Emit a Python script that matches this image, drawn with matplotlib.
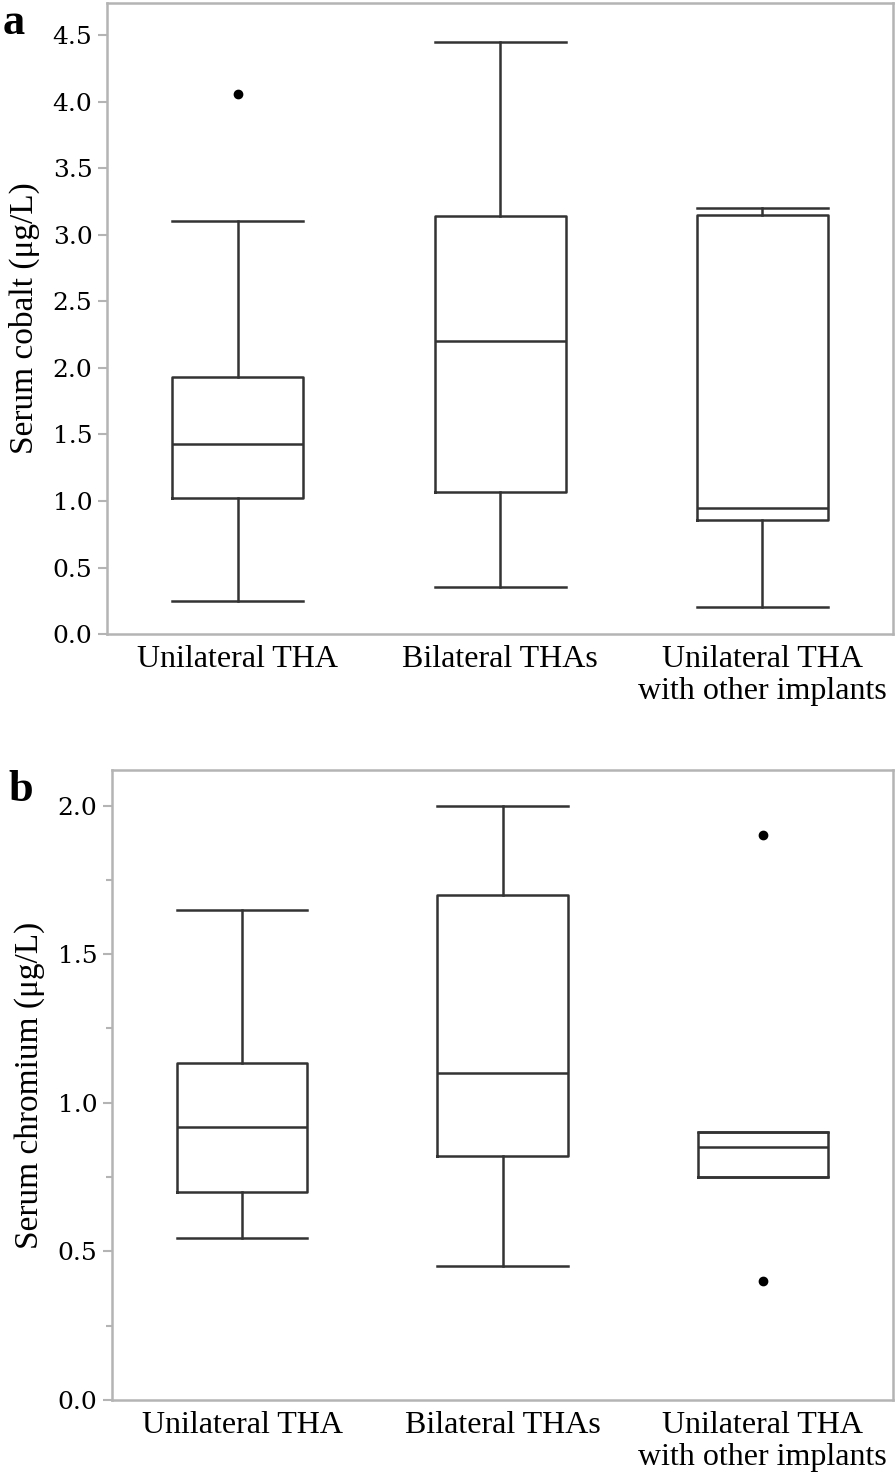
import matplotlib

matplotlib.use("Agg")
import matplotlib.pyplot as plt  # noqa: E402
from matplotlib.ticker import FormatStrFormatter, MultipleLocator  # noqa: E402

groups = ["Unilateral THA", "Bilateral THAs", "Unilateral THA\nwith other implants"]

# serum cobalt (ug/L): whisker low, Q1, median, Q3, whisker high, outliers
co_whislo = [0.25, 0.35, 0.20]
co_q1 = [1.02, 1.07, 0.86]
co_med = [1.43, 2.20, 0.95]
co_q3 = [1.93, 3.14, 3.15]
co_whishi = [3.10, 4.45, 3.20]
co_fliers = [[4.06], [], []]

# serum chromium (ug/L)
cr_whislo = [0.545, 0.45, 0.75]
cr_q1 = [0.70, 0.82, 0.75]
cr_med = [0.92, 1.10, 0.85]
cr_q3 = [1.135, 1.70, 0.90]
cr_whishi = [1.65, 2.00, 0.90]
cr_fliers = [[], [], [1.9, 0.4]]

EDGE = "#333333"
SPINE = "#b4b4b4"


def _stats(lo, q1, med, q3, hi, fl):
    return [dict(whislo=a, q1=b, med=c, q3=d, whishi=e, fliers=f)
            for a, b, c, d, e, f in zip(lo, q1, med, q3, hi, fl)]


def panel(ax, stats, ylabel, ymax, minor, letter):
    line = dict(color=EDGE, linewidth=1.8)
    ax.bxp(stats, positions=[1, 2, 3], widths=0.5, showfliers=True,
           boxprops=line, whiskerprops=line, capprops=line,
           medianprops=line, capwidths=0.5,
           flierprops=dict(marker="o", markerfacecolor="black",
                           markeredgecolor="black", markersize=6))
    ax.set_xlim(0.5, 3.5)
    ax.set_ylim(0, ymax)
    ax.yaxis.set_major_locator(MultipleLocator(0.5))
    if minor:
        ax.yaxis.set_minor_locator(MultipleLocator(minor))
    ax.yaxis.set_major_formatter(FormatStrFormatter("%.1f"))
    ax.set_xticks([1, 2, 3])
    ax.set_xticklabels(groups, fontsize=23, family="Liberation Serif",
                       linespacing=1.15)
    for t in ax.get_yticklabels():
        t.set_family("DejaVu Serif")
        t.set_fontsize(18)
    ax.tick_params(axis="x", length=0, pad=8)
    ax.tick_params(axis="y", which="both", color=SPINE, width=1.5,
                   direction="out", labelcolor="black")
    ax.tick_params(axis="y", which="major", length=6.5, pad=4)
    ax.tick_params(axis="y", which="minor", length=4.5)
    for s in ax.spines.values():
        s.set_color(SPINE)
        s.set_linewidth(1.8)
    ax.set_ylabel(ylabel, fontsize=24, family="Liberation Serif", labelpad=9)
    ax.text(-0.133, 1.0, letter, transform=ax.transAxes, fontsize=32,
            fontweight="bold", family="Liberation Serif", va="top", ha="left")


fig = plt.figure(figsize=(8.96, 14.78), dpi=100)
ax1 = fig.add_axes([0.1194, 0.571, 0.8773, 0.4269])
ax2 = fig.add_axes([0.125, 0.0528, 0.8717, 0.4263])

panel(ax1, _stats(co_whislo, co_q1, co_med, co_q3, co_whishi, co_fliers),
      "Serum cobalt (\u03bcg/L)", 4.74, None, "a")
panel(ax2, _stats(cr_whislo, cr_q1, cr_med, cr_q3, cr_whishi, cr_fliers),
      "Serum chromium (\u03bcg/L)", 2.12, 0.25, "b")

fig.savefig("out.png", dpi=100)
